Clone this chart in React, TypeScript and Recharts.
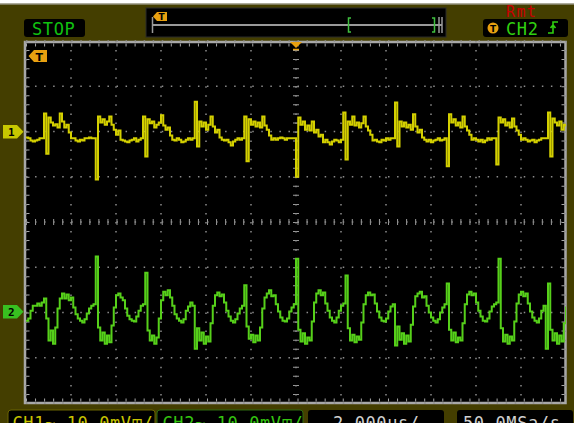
import React from 'react';
import { LineChart, Line, XAxis, YAxis, CartesianGrid } from 'recharts';

const W = 574;
const H = 423;
const PLOT_LEFT = 26;
const PLOT_TOP = 41;
const PLOT_W = 540;
const PLOT_H = 362;

// scope settings
const SAMPLE_US = 0.1; // one sample per 0.1 us, 2 us/div
const CH1_OFFSET = 20; // mV, +2 div
const CH2_OFFSET = -20; // mV, -2 div

const timeTicks = [-10, -8, -6, -4, -2, 0, 2, 4, 6, 8, 10];
const voltTicks = [-30, -20, -10, 0, 10, 20, 30];

// CH1, mV relative to its ground marker
const ch1 = [
  -1.3, -1.5, -2.0, -2.2, -2.0, -1.8, -1.5, -1.5,
  4.0, -4.9, 3.1, 2.0, 1.3, 1.6, 0.9, 4.0, 2.2, 0.9, 1.5, -0.2, -1.5,
  -1.5, -2.0, -2.2, -1.8, -2.0, -1.5, -1.5, -1.3, -1.5, -1.5,
  -10.6,
  3.3, 2.0, 2.7, 1.5, 2.2, 3.3, 1.5, 0.4, -0.7, 0.2,
  -1.8, -2.0, -2.2, -2.4, -2.0, -1.8, -1.5, -2.2, -1.8, -1.5,
  3.3, -5.5, 2.7, 1.8, 2.2, 0.9, 1.5, 2.0, 3.6, 1.3, 0.4, 0.9, -0.9,
  -1.8, -2.0, -1.5, -1.8, -2.4, -2.2, -1.8, -1.5, -1.8,
  -1.5, 6.6, -3.3, 2.2, 1.1, 2.0, 0.4, 1.5, 3.3, 1.1, -0.2, 0.4, -1.3,
  -1.8, -2.0, -1.8, -2.4, -3.1, -2.2, -1.8, -1.5, -1.8, -1.5,
  3.3, -6.6, 2.7, 1.5, 2.2, 1.1, 2.0, 0.9, 3.3, 1.3, 0.4, -0.9,
  -1.8, -1.5, -1.8, -1.5, -1.3, -1.5, -1.8, -1.5, -1.5, -1.5, -1.5,
  -10.0, 3.1, 1.5, 2.2, 0.4, 1.3, 0.2, 2.2, -0.2, 0.4, -1.1, -0.7, -2.4,
  -1.8, -2.4, -2.9, -2.2, -1.8, -2.0, -2.4, -1.8,
  4.2, -6.2, 2.2, 1.5, 3.3, 1.3, 2.0, 0.9, 1.8, 3.3, 1.1, 0.2, -0.7, -2.0,
  -1.8, -2.2, -2.4, -1.8, -2.0, -1.5, -1.8, -1.5, -1.5,
  6.4, -3.3, 2.2, 1.1, 2.0, 0.9, 1.5, 0.4, 3.8, 1.1, -0.2, 0.4, -1.3,
  -1.8, -2.2, -1.8, -2.4, -2.0, -1.8, -1.5, -2.0, -1.8, -1.5,
  -7.7, 3.8, 2.0, 2.7, 1.3, 2.0, 0.9, 3.3, 1.1, 0.2, -0.7, -1.8,
  -1.5, -1.8, -2.2, -1.8, -2.4, -2.0, -1.5, -1.8, -1.5, -1.5,
  -7.3, 3.1, 2.0, 2.7, 1.3, 2.0, 0.9, 2.9, 1.1, 0.2, -0.7, -1.8,
  -1.5, -1.8, -2.2, -2.0, -1.8, -2.4, -2.0, -1.8, -1.5, -1.5, -1.5,
  4.2, -5.5, 2.9, 2.0, 1.3, 2.2, 0.4, 1.5, 1.1,
];

// CH2, mV relative to its ground marker
const ch2 = [
  -1.8, -1.3, 0.4, 1.5, 1.5, 2.0, 1.5, 2.2, 3.1, -1.3,
  -6.2, -4.0, -6.9, -3.3, 0.9, 3.1, 4.2, 3.1, 4.0, 2.7,
  3.3, 1.1, -0.4, -1.3, -1.8, -2.2, -1.5, -0.2, 0.9, 1.5,
  1.8,
  12.4,
  -3.3, -6.2, -4.4, -6.9, -5.1, -6.6, -2.9, 1.1, 3.8, 4.2,
  3.3, 2.7, 0.9, -0.7, -1.5, -1.8, -2.0, -0.9, 0.4, 1.5, 1.8,
  8.8,
  -4.0, -6.2, -5.1, -6.9, -5.5, -1.3, 2.7, 4.6, 3.8, 4.9,
  3.3, 1.5, -0.4, -1.3, -1.8, -2.2, -1.5, 0.4, 1.3, 2.2, 1.5,
  -8.0,
  -3.5, -6.2, -4.4, -6.9, -5.3, -6.4, -2.4, 1.5, 3.8, 4.4,
  3.6, 4.0, 2.2, 0.4, -0.9, -1.8, -2.2, -1.5, -0.2, 0.9, 1.5,
  6.0,
  -3.1, -5.8, -4.9, -6.6, -5.1, -6.2, -3.3, 0.9, 3.3, 4.2,
  4.9, 3.6, 3.8, 1.8, 0.2, -1.1, -1.8, -2.0, -1.3, 0.2, 1.1, 1.8,
  11.9,
  -3.8, -6.4, -4.6, -6.9, -5.5, -6.2, -2.0, 2.2, 4.2, 4.9,
  3.8, 4.4, 2.0, 0.4, -1.1, -1.8, -2.2, -1.1, 0.4, 1.5,
  2.0, 8.2,
  -3.5, -6.2, -4.9, -6.6, -5.3, -6.0, -2.2, 1.8, 3.8, 4.4,
  3.8, 4.0, 2.0, 0.2, -1.1, -1.8, -2.0, -1.3, 0.2, 1.3, 1.8,
  -7.3,
  -3.1, -6.0, -4.6, -6.9, -5.1, -6.4, -2.7, 1.3, 3.6, 4.2,
  4.6, 3.3, 3.6, 1.5, 0.0, -1.1, -1.8, -2.2, -1.5, 0.0, 1.1, 1.8,
  6.4,
  -3.8, -6.2, -4.4, -6.6, -5.5, -6.2, -2.4, 1.8, 4.0, 4.6,
  3.8, 4.2, 2.2, 0.4, -0.9, -1.8, -2.0, -1.3, 0.2, 1.3, 1.8,
  2.2, 11.9,
  -3.5, -6.4, -4.9, -6.9, -5.3, -6.2, -2.0, 2.0, 4.0, 4.6,
  3.6, 4.2, 2.0, 0.2, -1.1, -1.8, -2.2, -1.3, 0.4, 1.5,
  -8.0, 6.4,
  -3.8, -6.2, -4.6, -6.9, -5.1, -6.4, -2.4, 1.3,
];

const data = ch1.map((v, i) => ({
  t: -12 + i * SAMPLE_US,
  ch1: v + CH1_OFFSET,
  ch2: ch2[i] + CH2_OFFSET,
}));

const OLIVE = '#443e00';
const GRAY = '#a8a8a8';
const ORANGE = '#e8a010';
const YELLOW = '#d4d000';
const GREEN = '#56d01a';
const mono = { fontFamily: 'DejaVu Sans Mono', fontSize: 17, letterSpacing: 0.6 };

const Underlay = () => (
  <svg width={W} height={H} style={{ position: 'absolute', left: 0, top: 0 }}>
    <rect x={0} y={0} width={W} height={H} fill={OLIVE} />
    <rect x={0} y={0} width={W} height={3.5} fill="#fff" />
    <line x1={0} y1={4} x2={W} y2={4} stroke="#b8b8b8" />

    {/* STOP */}
    <rect x={24} y={19} width={61} height={18} rx={3} fill="#000" />
    <text x={32} y={35} fill="#10c010" {...mono}>STOP</text>

    {/* timebase bar */}
    <rect x={146} y={8} width={300} height={29} fill="#000" stroke="#2a2a2a" />
    <line x1={152} y1={25} x2={442} y2={25} stroke="#9a9a9a" strokeWidth={2} />
    <line x1={152.5} y1={17} x2={152.5} y2={33} stroke="#9a9a9a" strokeWidth={1.5} />
    <path d="M153,16.5 L157,12 L167,12 L167,21 L157,21 Z" fill={ORANGE} />
    <text x={158.5} y={20} fontSize={9} fontWeight="bold" fontFamily="DejaVu Sans" fill="#000">T</text>
    <path d="M351,18 L348.5,18 L348.5,32 L351,32" fill="none" stroke="#40c040" strokeWidth={1.5} />
    <path d="M432,18 L434.5,18 L434.5,32 L432,32" fill="none" stroke="#40c040" strokeWidth={1.5} />
    <line x1={439} y1={17} x2={439} y2={33} stroke="#9a9a9a" strokeWidth={1.5} />
    <line x1={442} y1={17} x2={442} y2={33} stroke="#9a9a9a" strokeWidth={1.5} />

    {/* remote + trigger */}
    <text x={506} y={16.5} fill="#c80000" fontFamily="DejaVu Sans Mono" fontSize={15} letterSpacing={1.4}>Rmt</text>
    <rect x={483} y={19} width={85} height={18} rx={3} fill="#000" />
    <circle cx={493} cy={28} r={5.5} fill={ORANGE} />
    <text x={490} y={32} fontSize={9} fontWeight="bold" fontFamily="DejaVu Sans" fill="#000">T</text>
    <text x={506} y={35} fill="#30d010" {...mono}>CH2</text>
    <path d="M548,33 L553,33 L553,22 L558,22 M550.5,28 L553,25 L555.5,28" fill="none" stroke="#30d010" strokeWidth={1.6} />

    {/* screen */}
    <rect x={PLOT_LEFT} y={PLOT_TOP} width={PLOT_W} height={PLOT_H} fill="#000" />
    <rect x={25} y={42} width={540.5} height={361} fill="none" stroke={GRAY} strokeWidth={2.5} />
    <line x1={PLOT_LEFT} y1={45} x2={PLOT_LEFT + PLOT_W} y2={45} stroke={GRAY} strokeWidth={3} strokeDasharray="1 8.05" />
    <line x1={PLOT_LEFT} y1={400} x2={PLOT_LEFT + PLOT_W} y2={400} stroke={GRAY} strokeWidth={3} strokeDasharray="1 8.05" />
    <line x1={28} y1={PLOT_TOP} x2={28} y2={PLOT_TOP + PLOT_H} stroke={GRAY} strokeWidth={3} strokeDasharray="1 8.05" />
    <line x1={563} y1={PLOT_TOP} x2={563} y2={PLOT_TOP + PLOT_H} stroke={GRAY} strokeWidth={3} strokeDasharray="1 8.05" />
    <line x1={296} y1={PLOT_TOP} x2={296} y2={PLOT_TOP + PLOT_H} stroke="#9a9a9a" strokeWidth={6} strokeDasharray="1 8.05" />
    <line x1={PLOT_LEFT} y1={222} x2={PLOT_LEFT + PLOT_W} y2={222} stroke="#9a9a9a" strokeWidth={6} strokeDasharray="1 8.05" />

    {/* channel markers */}
    <path d="M3,125 L17,125 L23.5,131.7 L17,138.5 L3,138.5 Z" fill="#c8c800" />
    <text x={8} y={136} fontSize={11} fontWeight="bold" fontFamily="DejaVu Sans Mono" fill="#000">1</text>
    <path d="M3,305 L17,305 L23.5,311.7 L17,318.5 L3,318.5 Z" fill="#38c020" />
    <text x={8} y={316} fontSize={11} fontWeight="bold" fontFamily="DejaVu Sans Mono" fill="#000">2</text>

    {/* bottom status, cut by the screen edge as in the capture */}
    <rect x={8} y={410} width={147} height={20} rx={3} fill="#000" stroke="#6a6400" />
    <text x={12.5} y={428.5} fill="#c8c400" {...mono}>CH1~ 10.0mV⊞/</text>
    <rect x={157} y={410} width={146} height={20} rx={3} fill="#000" stroke="#2e6a10" />
    <text x={162.5} y={428.5} fill="#34c410" {...mono}>CH2~ 10.0mV⊞/</text>
    <rect x={308} y={410} width={136} height={20} rx={3} fill="#000" />
    <text x={333} y={428.5} fill="#d0d0d0" {...mono}>2.000us/</text>
    <rect x={457} y={410} width={116} height={20} rx={3} fill="#000" />
    <text x={463} y={428.5} fill="#d0d0d0" {...mono}>50.0MSa/s</text>
  </svg>
);

const Overlay = () => (
  <svg width={W} height={H} style={{ position: 'absolute', left: 0, top: 0, pointerEvents: 'none' }}>
    <path d="M290,42 L302,42 L296,48 Z" fill={ORANGE} />
    <line x1={293} y1={49.5} x2={299} y2={49.5} stroke={ORANGE} strokeWidth={1.5} />
    <path d="M28.5,56 L34,50 L47,50 L47,62 L34,62 Z" fill={ORANGE} />
    <text x={35.5} y={60.5} fontSize={11} fontWeight="bold" fontFamily="DejaVu Sans" fill="#000">T</text>
  </svg>
);

export default function App() {
  return (
    <div style={{ position: 'absolute', left: 0, top: 0, width: W, height: H, overflow: 'hidden', background: OLIVE }}>
      <Underlay />
      <div style={{ position: 'absolute', left: 0, top: 0 }}>
        <LineChart
          width={W}
          height={H}
          data={data}
          margin={{ top: PLOT_TOP, right: W - PLOT_LEFT - PLOT_W, bottom: H - PLOT_TOP - PLOT_H, left: PLOT_LEFT }}
        >
          <CartesianGrid stroke="#8c8c8c" strokeWidth={1.5} strokeDasharray="1.5 7.55" />
          <XAxis type="number" dataKey="t" domain={[-12, 12]} ticks={timeTicks} hide allowDataOverflow />
          <YAxis type="number" domain={[-40, 40]} ticks={voltTicks} hide allowDataOverflow />
          <Line dataKey="ch1" type="stepAfter" stroke={YELLOW} strokeWidth={2} dot={false} isAnimationActive={false} />
          <Line dataKey="ch2" type="stepAfter" stroke={GREEN} strokeWidth={2} dot={false} isAnimationActive={false} />
        </LineChart>
      </div>
      <Overlay />
    </div>
  );
}
